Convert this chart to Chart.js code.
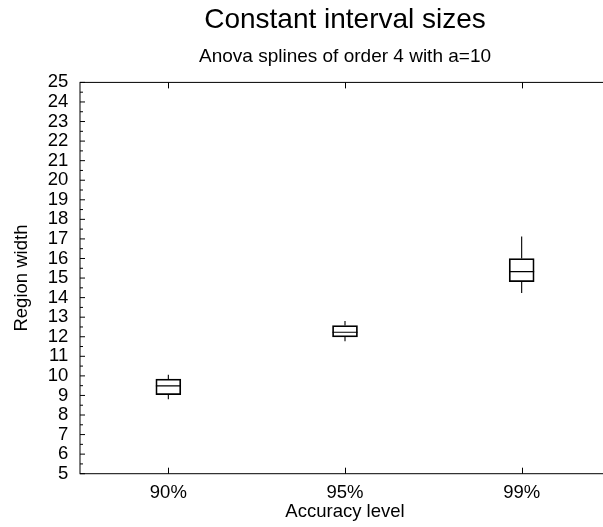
<!DOCTYPE html>
<html>
<head>
<meta charset="utf-8">
<script src="https://cdn.jsdelivr.net/npm/chart.js@4.4.1/dist/chart.umd.min.js"></script>
<style>
html,body{margin:0;padding:0;background:#fff;overflow:hidden;width:603px;height:527px;}
canvas{display:block;}
</style>
</head>
<body>
<canvas id="c" width="612" height="527" style="width:612px;height:527px"></canvas>
<script>
const categories = ['90%', '95%', '99%'];
const whiskerLow  = [8.81, 11.77, 14.23];
const q1          = [9.04, 11.99, 14.81];
const median      = [9.49, 12.23, 15.33];
const q3          = [9.84, 12.57, 16.00];
const whiskerHigh = [10.06, 12.80, 17.12];
const yMin = 5, yMax = 25, yStep = 1;

const FONT = 'Liberation Sans, Arial, Helvetica, sans-serif';

const boxPlugin = {
  id: 'boxExtras',
  afterDatasetsDraw(chart) {
    const ctx = chart.ctx, xs = chart.scales.x, ys = chart.scales.y;
    const meta = chart.getDatasetMeta(0);
    ctx.save();
    ctx.strokeStyle = '#000';
    ctx.lineWidth = 1.1;
    categories.forEach((c, i) => {
      const bar = meta.data[i];
      const cx = xs.getPixelForValue(i);
      const half = bar.width / 2;
      const ym = ys.getPixelForValue(median[i]);
      ctx.beginPath();
      ctx.moveTo(cx - half, ym); ctx.lineTo(cx + half, ym);
      ctx.moveTo(cx, ys.getPixelForValue(q3[i])); ctx.lineTo(cx, ys.getPixelForValue(whiskerHigh[i]));
      ctx.moveTo(cx, ys.getPixelForValue(q1[i])); ctx.lineTo(cx, ys.getPixelForValue(whiskerLow[i]));
      ctx.stroke();
    });
    ctx.restore();
  },
  afterDraw(chart) {
    const ctx = chart.ctx, a = chart.chartArea, xs = chart.scales.x, ys = chart.scales.y;
    ctx.save();
    ctx.strokeStyle = '#000';
    ctx.lineWidth = 1;
    ctx.strokeRect(a.left, a.top, a.right - a.left, a.bottom - a.top);
    ctx.beginPath();
    for (let v = yMin; v <= yMax + 1e-9; v += yStep / 2) {
      const y = ys.getPixelForValue(v);
      const major = Math.abs(v - Math.round(v)) < 1e-9;
      const len = major ? 5 : 3;
      ctx.moveTo(a.left, y); ctx.lineTo(a.left + len, y);
      ctx.moveTo(a.right, y); ctx.lineTo(a.right - len, y);
    }
    categories.forEach((c, i) => {
      const x = Math.round(xs.getPixelForValue(i)) + 0.5;
      ctx.moveTo(x, a.bottom); ctx.lineTo(x, a.bottom - 6);
      ctx.moveTo(x, a.top); ctx.lineTo(x, a.top + 6);
    });
    ctx.stroke();
    ctx.restore();
  }
};

new Chart(document.getElementById('c'), {
  type: 'bar',
  data: {
    labels: categories,
    datasets: [{
      data: categories.map((c, i) => [q1[i], q3[i]]),
      backgroundColor: 'rgba(0,0,0,0)',
      borderColor: '#000',
      borderWidth: 1.1,
      borderSkipped: false,
      barThickness: 25
    }]
  },
  options: {
    responsive: false,
    devicePixelRatio: 1,
    animation: false,
    events: [],
    layout: { padding: { top: 0, right: 2, bottom: 0, left: 0 } },
    plugins: {
      legend: { display: false },
      tooltip: { enabled: false },
      title: {
        display: true,
        text: 'Constant interval sizes',
        fullSize: false,
        color: '#000',
        font: { family: FONT, size: 28, weight: 'normal' },
        padding: { top: 3, bottom: 9 }
      },
      subtitle: {
        display: true,
        text: 'Anova splines of order 4 with a=10',
        fullSize: false,
        color: '#000',
        font: { family: FONT, size: 19, weight: 'normal' },
        padding: { top: 0, bottom: 14 }
      }
    },
    scales: {
      x: {
        type: 'category',
        grid: { display: false, drawTicks: false },
        border: { display: false },
        ticks: { color: '#000', font: { family: FONT, size: 18.5 }, padding: 8, maxRotation: 0 },
        title: { display: true, text: 'Accuracy level', color: '#000', font: { family: FONT, size: 18.5 }, padding: { top: 0, bottom: 4 } },
        afterFit(s) { s.height = 527 - 473.7; }
      },
      y: {
        type: 'linear',
        min: yMin, max: yMax,
        grid: { display: false, drawTicks: false },
        border: { display: false },
        ticks: { stepSize: yStep, color: '#000', font: { family: FONT, size: 18.5 }, padding: 11.7, autoSkip: false },
        title: { display: true, text: 'Region width', color: '#000', font: { family: FONT, size: 18.5 }, padding: { top: 10.6, bottom: 0 } },
        afterFit(s) { s.width = 80; }
      }
    }
  },
  plugins: [boxPlugin]
});
</script>
</body>
</html>
